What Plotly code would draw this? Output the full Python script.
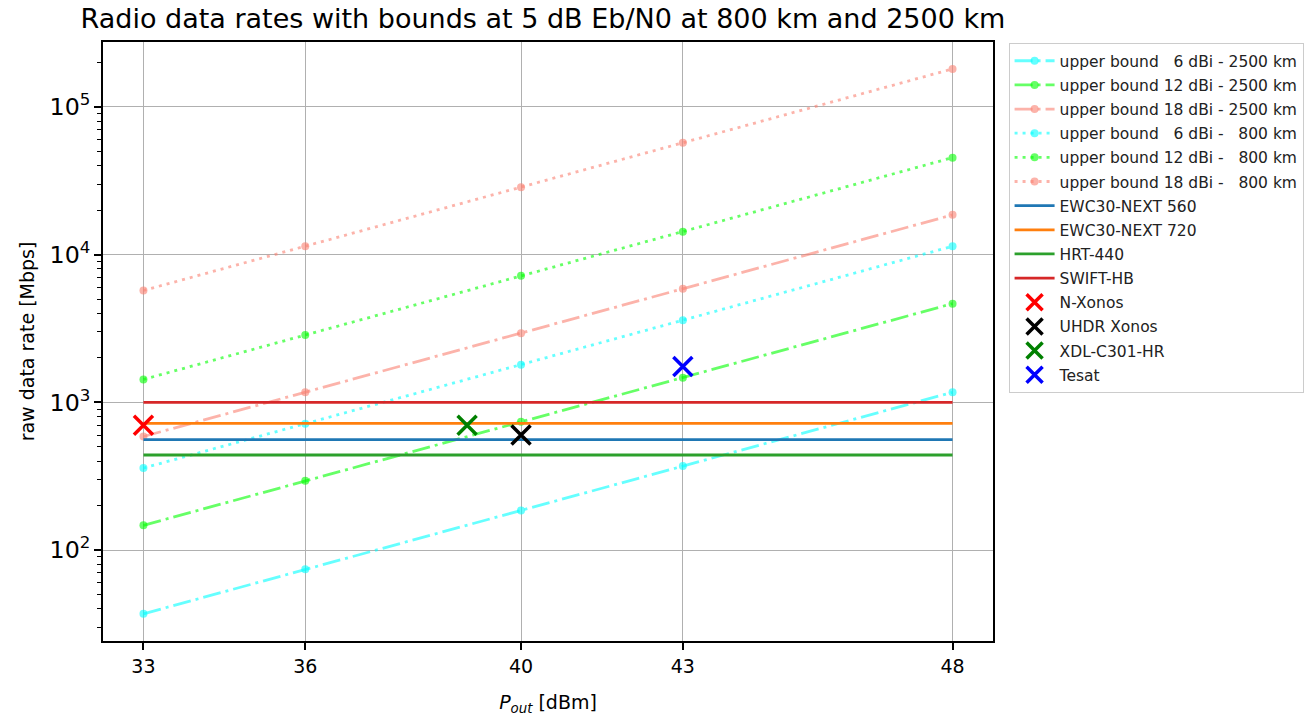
import plotly.graph_objects as go

# Output power steps [dBm]
p_out = [33, 36, 40, 43, 48]

# Upper-bound data rates [Mbps] at 5 dB Eb/N0
ub_6dbi_2500km = [37, 74, 185, 370, 1170]
ub_12dbi_2500km = [147, 294, 738, 1470, 4660]
ub_18dbi_2500km = [587, 1170, 2940, 5870, 18600]
ub_6dbi_800km = [359, 717, 1800, 3590, 11400]
ub_12dbi_800km = [1430, 2860, 7190, 14300, 45400]
ub_18dbi_800km = [5720, 11400, 28600, 57200, 181000]

# Commercial radios: constant rate over the power span
radio_names = ["EWC30-NEXT 560", "EWC30-NEXT 720", "HRT-440", "SWIFT-HB"]
radio_rates = [560, 720, 440, 1000]
radio_colors = ["#1f77b4", "#ff7f0e", "#2ca02c", "#d62728"]

# Individual transmitters (power, rate)
tx_names = ["N-Xonos", "UHDR Xonos", "XDL-C301-HR", "Tesat"]
tx_power = [33, 40, 39, 43]
tx_rate = [700, 600, 700, 1750]
tx_colors = ["red", "black", "green", "blue"]

NB = "\u00a0"
bound_labels = [
    f"upper bound{NB*3}6 dBi - 2500 km",
    f"upper bound 12 dBi - 2500 km",
    f"upper bound 18 dBi - 2500 km",
    f"upper bound{NB*3}6 dBi -{NB*3}800 km",
    f"upper bound 12 dBi -{NB*3}800 km",
    f"upper bound 18 dBi -{NB*3}800 km",
]
bound_values = [ub_6dbi_2500km, ub_12dbi_2500km, ub_18dbi_2500km,
                ub_6dbi_800km, ub_12dbi_800km, ub_18dbi_800km]
bound_colors = ["rgba(0,255,255,0.6)", "rgba(0,255,0,0.6)", "rgba(250,128,114,0.6)"] * 2
bound_dash = ["18px,5px,3px,5px"] * 3 + ["3px,5px"] * 3

fig = go.Figure()

for i, (lbl, vals, col, dsh) in enumerate(zip(bound_labels, bound_values, bound_colors, bound_dash)):
    fig.add_trace(go.Scatter(
        x=p_out, y=vals, name=lbl, mode="lines+markers",
        line=dict(color=col, width=2.8, dash=dsh),
        marker=dict(color=col, size=8),
        legendgroup=f"g{i}",
    ))

for j, (nm, rate, col) in enumerate(zip(radio_names, radio_rates, radio_colors)):
    fig.add_trace(go.Scatter(
        x=[p_out[0], p_out[-1]], y=[rate, rate], name=nm, mode="lines",
        line=dict(color=col, width=2.8),
        legendgroup=f"r{j}",
    ))

for k, (nm, px, rt, col) in enumerate(zip(tx_names, tx_power, tx_rate, tx_colors)):
    fig.add_trace(go.Scatter(
        x=[px], y=[rt], name=nm, mode="markers",
        marker=dict(symbol="x-thin", size=19, color=col,
                    line=dict(color=col, width=3.5)),
        legendgroup=f"t{k}",
    ))

font_family = "DejaVu Sans"

fig.update_layout(
    width=1316, height=717,
    margin=dict(l=103, r=323, t=42, b=76),
    paper_bgcolor="white", plot_bgcolor="white",
    font=dict(family=font_family, size=19, color="black"),
    title=dict(
        text="Radio data rates with bounds at 5 dB Eb/N0 at 800 km and 2500 km",
        x=543 / 1316, xanchor="center", xref="container",
        y=1 - 19 / 717, yanchor="middle", yref="container",
        font=dict(family=font_family, size=27, color="black"),
    ),
    legend=dict(
        x=1.0175, xanchor="left", y=0.998, yanchor="top",
        font=dict(family=font_family, size=15.5, color="#222"),
        bordercolor="#cccccc", borderwidth=1, bgcolor="white",
        tracegroupgap=1, traceorder="grouped", itemwidth=40,
    ),
    showlegend=True,
)

fig.update_xaxes(
    range=[32.25, 48.75], automargin=False,
    tickmode="array", tickvals=p_out, ticktext=[str(v) for v in p_out],
    ticks="outside", ticklen=7, tickwidth=1.5, tickcolor="black",
    showline=True, linecolor="black", linewidth=1.6, mirror=True,
    showgrid=True, gridcolor="#b0b0b0", gridwidth=1.3,
    zeroline=False,
    tickfont=dict(size=19),
    title=dict(text="<i>P</i><sub><i>out</i></sub> [dBm]", standoff=20,
               font=dict(size=19)),
)

fig.update_yaxes(
    type="log", range=[1.384, 5.44], automargin=False,
    dtick=1, exponentformat="power",
    ticks="outside", ticklen=7, tickwidth=1.5, tickcolor="black",
    minor=dict(ticks="outside", ticklen=4, tickwidth=1.2, tickcolor="black",
               dtick="D1", showgrid=False),
    showline=True, linecolor="black", linewidth=1.6, mirror=True,
    showgrid=True, gridcolor="#b0b0b0", gridwidth=1.3,
    zeroline=False,
    tickfont=dict(size=19),
    title=dict(text="raw data rate [Mbps]", standoff=10, font=dict(size=19)),
)

fig.write_html("out.html")
